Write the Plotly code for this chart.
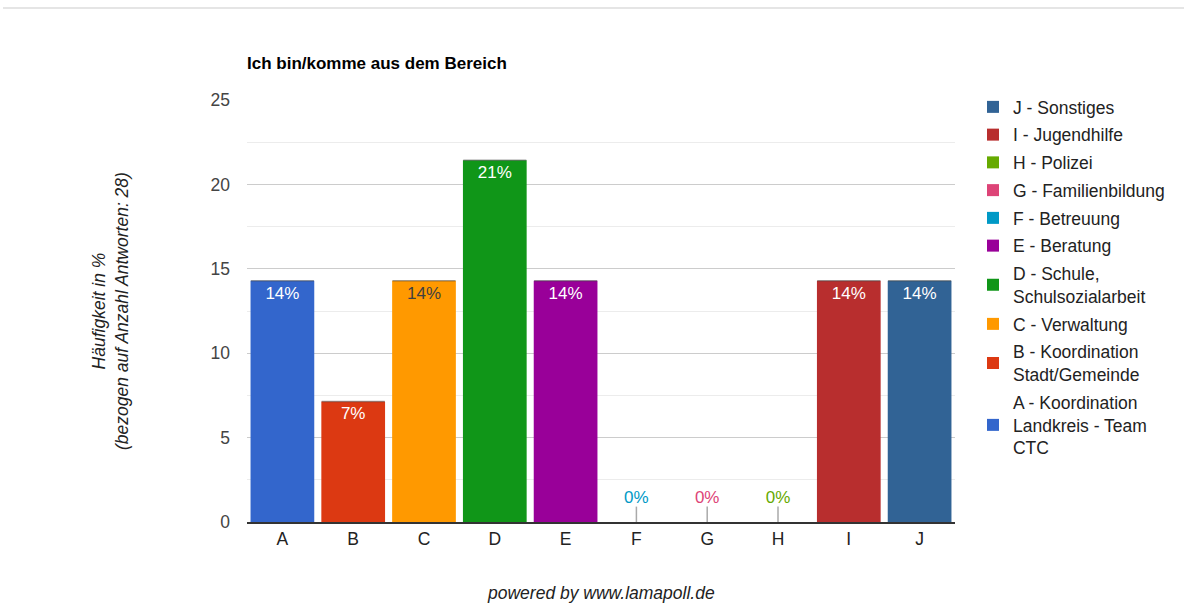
import plotly.graph_objects as go

categories = ["A", "B", "C", "D", "E", "F", "G", "H", "I", "J"]
legend_names = [
    "A - Koordination<br>Landkreis - Team<br>CTC",
    "B - Koordination<br>Stadt/Gemeinde",
    "C - Verwaltung",
    "D - Schule,<br>Schulsozialarbeit",
    "E - Beratung",
    "F - Betreuung",
    "G - Familienbildung",
    "H - Polizei",
    "I - Jugendhilfe",
    "J - Sonstiges",
]
values = [14.29, 7.14, 14.29, 21.43, 14.29, 0, 0, 0, 14.29, 14.29]
labels = ["14%", "7%", "14%", "21%", "14%", "0%", "0%", "0%", "14%", "14%"]
colors = ["#3366cc", "#dc3912", "#ff9900", "#109618", "#990099",
          "#0099c6", "#dd4477", "#66aa00", "#b82e2e", "#316395"]
label_colors = ["#ffffff", "#ffffff", "#404040", "#ffffff", "#ffffff",
                "#0099c6", "#dd4477", "#66aa00", "#ffffff", "#ffffff"]

FONT = "Liberation Sans, Arial, sans-serif"
FS = 17.5

fig = go.Figure()

# add in reverse so the legend lists J first
for i in reversed(range(len(categories))):
    c = categories[i]
    fig.add_trace(go.Bar(
        x=[c], y=[values[i]], name=legend_names[i],
        marker=dict(color=colors[i], line=dict(width=0)),
        text=[labels[i]] if values[i] > 0 else None,
        textposition="inside", insidetextanchor="end",
        textfont=dict(color=label_colors[i], size=17, family=FONT),
        legendgroup=c, hoverinfo="x+y",
    ))

# thin top edge of each non-zero bar
nz_x = [c for c, v in zip(categories, values) if v > 0]
nz_y = [v for v in values if v > 0]
fig.add_trace(go.Scatter(
    x=nz_x, y=nz_y, mode="markers", showlegend=False, hoverinfo="skip",
    marker=dict(symbol="line-ew", size=45, color="rgba(0,0,0,0)",
                line=dict(color="rgba(70,70,70,0.5)", width=1.5)),
))

# zero-value stubs with labels
z_x = [c for c, v in zip(categories, values) if v == 0]
z_y = [v for v in values if v == 0]
z_t = [l for l, v in zip(labels, values) if v == 0]
z_c = [lc for lc, v in zip(label_colors, values) if v == 0]
fig.add_trace(go.Scatter(
    x=z_x, y=z_y, mode="markers+text", text=z_t, textposition="top center",
    textfont=dict(color=z_c, size=17, family=FONT),
    showlegend=False, hoverinfo="skip", cliponaxis=True,
    marker=dict(symbol="line-ns", size=22, color="rgba(0,0,0,0)",
                line=dict(color="#aaaaaa", width=1.5)),
))

fig.update_layout(
    width=1184, height=610,
    margin=dict(l=247, r=229, t=100, b=88),
    paper_bgcolor="white", plot_bgcolor="white",
    barmode="overlay", bargap=0.1,
    font=dict(family=FONT, size=FS, color="#444444"),
    title=dict(text="<b>Ich bin/komme aus dem Bereich</b>",
               x=247 / 1184, xanchor="left", y=1 - 63 / 610, yanchor="middle",
               font=dict(size=17, color="#000000", family=FONT)),
    legend=dict(x=1.0254, y=1 + (100 - 89) / 422, xanchor="left", yanchor="top",
                traceorder="grouped", tracegroupgap=2, maxheight=560,
                itemwidth=30, font=dict(size=FS, color="#222222", family=FONT),
                bgcolor="rgba(0,0,0,0)"),
    xaxis=dict(range=[-0.5, 9.5], categoryorder="array", categoryarray=categories,
               showline=True, linecolor="#333333", linewidth=1.5,
               tickfont=dict(size=FS, color="#222222"), ticks="",
               showgrid=False, fixedrange=True),
    yaxis=dict(range=[0, 25], dtick=5, showgrid=True, gridcolor="#cccccc",
               gridwidth=1, zeroline=False, ticks="", ticklabelstandoff=16,
               tickfont=dict(size=FS, color="#444444"),
               minor=dict(dtick=2.5, showgrid=True, gridcolor="#ececec", gridwidth=1),
               fixedrange=True),
    shapes=[dict(type="line", xref="paper", yref="paper",
                 x0=(3 - 247) / 708, x1=(1184 - 247) / 708,
                 y0=1 + (100 - 8) / 422, y1=1 + (100 - 8) / 422,
                 line=dict(color="#dddddd", width=1.5))],
    annotations=[
        dict(text="<i>Häufigkeit in %<br>(bezogen auf Anzahl Antworten: 28)</i>",
             xref="paper", yref="paper", x=(110 - 247) / 708, y=0.5,
             textangle=-90, showarrow=False, xanchor="center", yanchor="middle",
             font=dict(size=FS, color="#222222", family=FONT)),
        dict(text="<i>powered by www.lamapoll.de</i>",
             xref="paper", yref="paper", x=(601 - 247) / 708,
             y=-(593 - 522) / 422, xanchor="center", yanchor="middle",
             showarrow=False, font=dict(size=FS, color="#222222", family=FONT)),
    ],
)

fig.write_html("out.html", config={"displayModeBar": False},
               post_script="document.body.style.margin='0';document.body.style.overflow='hidden';")
